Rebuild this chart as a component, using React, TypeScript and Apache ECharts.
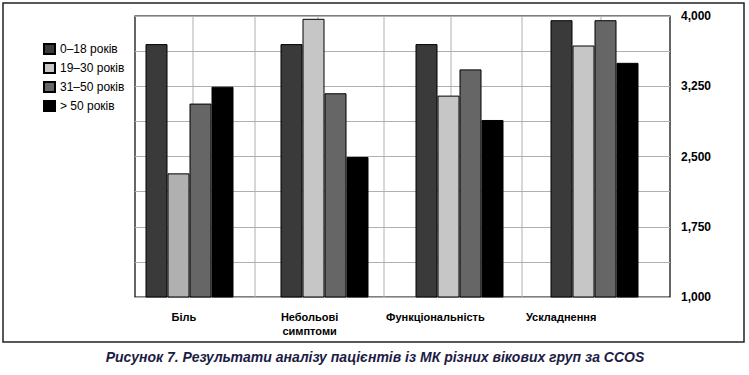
import React, { useEffect, useRef } from "react";
import * as echarts from "echarts";

const categories = ["Біль", "Небольові\nсимптоми", "Функціональність", "Ускладнення"];
const seriesNames = ["0–18 років", "19–30 років", "31–50 років", "> 50 років"];
const age0_18 = [3700, 3700, 3700, 3955];
const age19_30 = [2320, 3970, 3150, 3685];
const age31_50 = [3065, 3175, 3430, 3955];
const age50plus = [3245, 2495, 2890, 3500];
const yMin = 1000;
const yMax = 4000;
const yStep = 375;
const caption = "Рисунок 7. Результати аналізу пацієнтів із МК різних вікових груп за CCOS";

const FONT = "'Liberation Sans', Arial, sans-serif";

// layout constants (decorative vertical grid of the original figure)
const PLOT_LEFT = 135;
const PLOT_RIGHT = 670;
const PLOT_TOP = 16;
const PLOT_BOTTOM = 297;
const vGridX = [193, 255, 318, 384, 451, 522, 601];

export default function App() {
  const ref = useRef<HTMLDivElement>(null);
  useEffect(() => {
    if (!ref.current) return;
    const chart = echarts.init(ref.current, null, { renderer: "svg" });
    const colors = ["#3a3a3a", "#c6c6c6", "#666666", "#000000"];
    const values = [age0_18, age19_30, age31_50, age50plus];
    const series: any[] = values.map((vals, i) => ({
      name: seriesNames[i],
      type: "bar",
      xAxisIndex: 1,
      yAxisIndex: 1,
      barWidth: 22,
      barGap: "0%",
      itemStyle: { color: colors[i], borderColor: "#000", borderWidth: 1 },
      data: vals.map((v, j) =>
        i === 1 && j === 0 ? { value: v, itemStyle: { color: "#b0b0b0" } } : v
      ),
    }));
    const gridBottom = 375 - PLOT_BOTTOM;
    chart.setOption({
      animation: false,
      backgroundColor: "#fff",
      textStyle: { fontFamily: FONT },
      legend: {
        orient: "vertical",
        left: 38,
        top: 38,
        itemWidth: 11,
        itemHeight: 10,
        itemGap: 7,
        icon: "rect",
        textStyle: { fontSize: 12, color: "#000", fontFamily: FONT },
        data: seriesNames,
      },
      grid: [
        {
          left: PLOT_LEFT,
          right: 749 - PLOT_RIGHT,
          top: PLOT_TOP,
          bottom: gridBottom,
          show: true,
          borderColor: "#000",
          borderWidth: 1.2,
          backgroundColor: "transparent",
        },
        { left: 122, width: 540, top: PLOT_TOP, bottom: gridBottom },
        { left: 121, width: 503, top: PLOT_TOP, bottom: gridBottom },
      ],
      xAxis: [
        {
          gridIndex: 0,
          type: "category",
          data: categories,
          axisLine: { show: false },
          axisTick: { show: false },
          axisLabel: { show: false },
          splitLine: { show: false },
        },
        {
          gridIndex: 1,
          type: "category",
          data: categories,
          axisLine: { show: false },
          axisTick: { show: false },
          axisLabel: { show: false },
          splitLine: { show: false },
        },
        {
          gridIndex: 2,
          type: "category",
          data: categories,
          axisLine: { show: false },
          axisTick: { show: false },
          axisLabel: {
            show: true,
            interval: 0,
            margin: 13,
            fontSize: 11,
            fontWeight: "bold",
            color: "#000",
            lineHeight: 14,
            fontFamily: FONT,
          },
          splitLine: { show: false },
        },
      ],
      yAxis: [
        {
          gridIndex: 0,
          type: "value",
          position: "right",
          min: yMin,
          max: yMax,
          interval: yStep,
          axisLine: { show: false },
          axisTick: { show: false },
          axisLabel: {
            margin: 11,
            fontSize: 12,
            fontWeight: "bold",
            color: "#000",
            fontFamily: FONT,
            formatter: (v: number) =>
              (v - yMin) % (yStep * 2) === 0 ? v.toLocaleString("en-US") : "",
          },
          splitLine: { show: true, lineStyle: { color: "#b0b0b0", width: 1 } },
        },
        { gridIndex: 1, type: "value", min: yMin, max: yMax, show: false },
        { gridIndex: 2, type: "value", min: yMin, max: yMax, show: false },
      ],
      series,
      graphic: [
        {
          type: "rect",
          z: 0,
          shape: { x: 3, y: 3, width: 741, height: 339 },
          style: { fill: "none", stroke: "#222", lineWidth: 1.5 },
          silent: true,
        },
        ...vGridX.map((x) => ({
          type: "line",
          z: 1,
          shape: { x1: x, y1: PLOT_TOP, x2: x, y2: PLOT_BOTTOM },
          style: { stroke: "#b0b0b0", lineWidth: 1 },
          silent: true,
        })),
        {
          type: "text",
          x: 375,
          y: 357,
          style: {
            text: caption,
            fill: "#1c1c44",
            font: "italic bold 14px 'Liberation Sans Narrow', 'Liberation Sans', Arial, sans-serif",
            textAlign: "center",
            textVerticalAlign: "middle",
          },
        },
      ],
    });
    return () => chart.dispose();
  }, []);
  return (
    <div
      ref={ref}
      style={{ position: "absolute", left: 0, top: 0, width: 749, height: 375 }}
    />
  );
}
